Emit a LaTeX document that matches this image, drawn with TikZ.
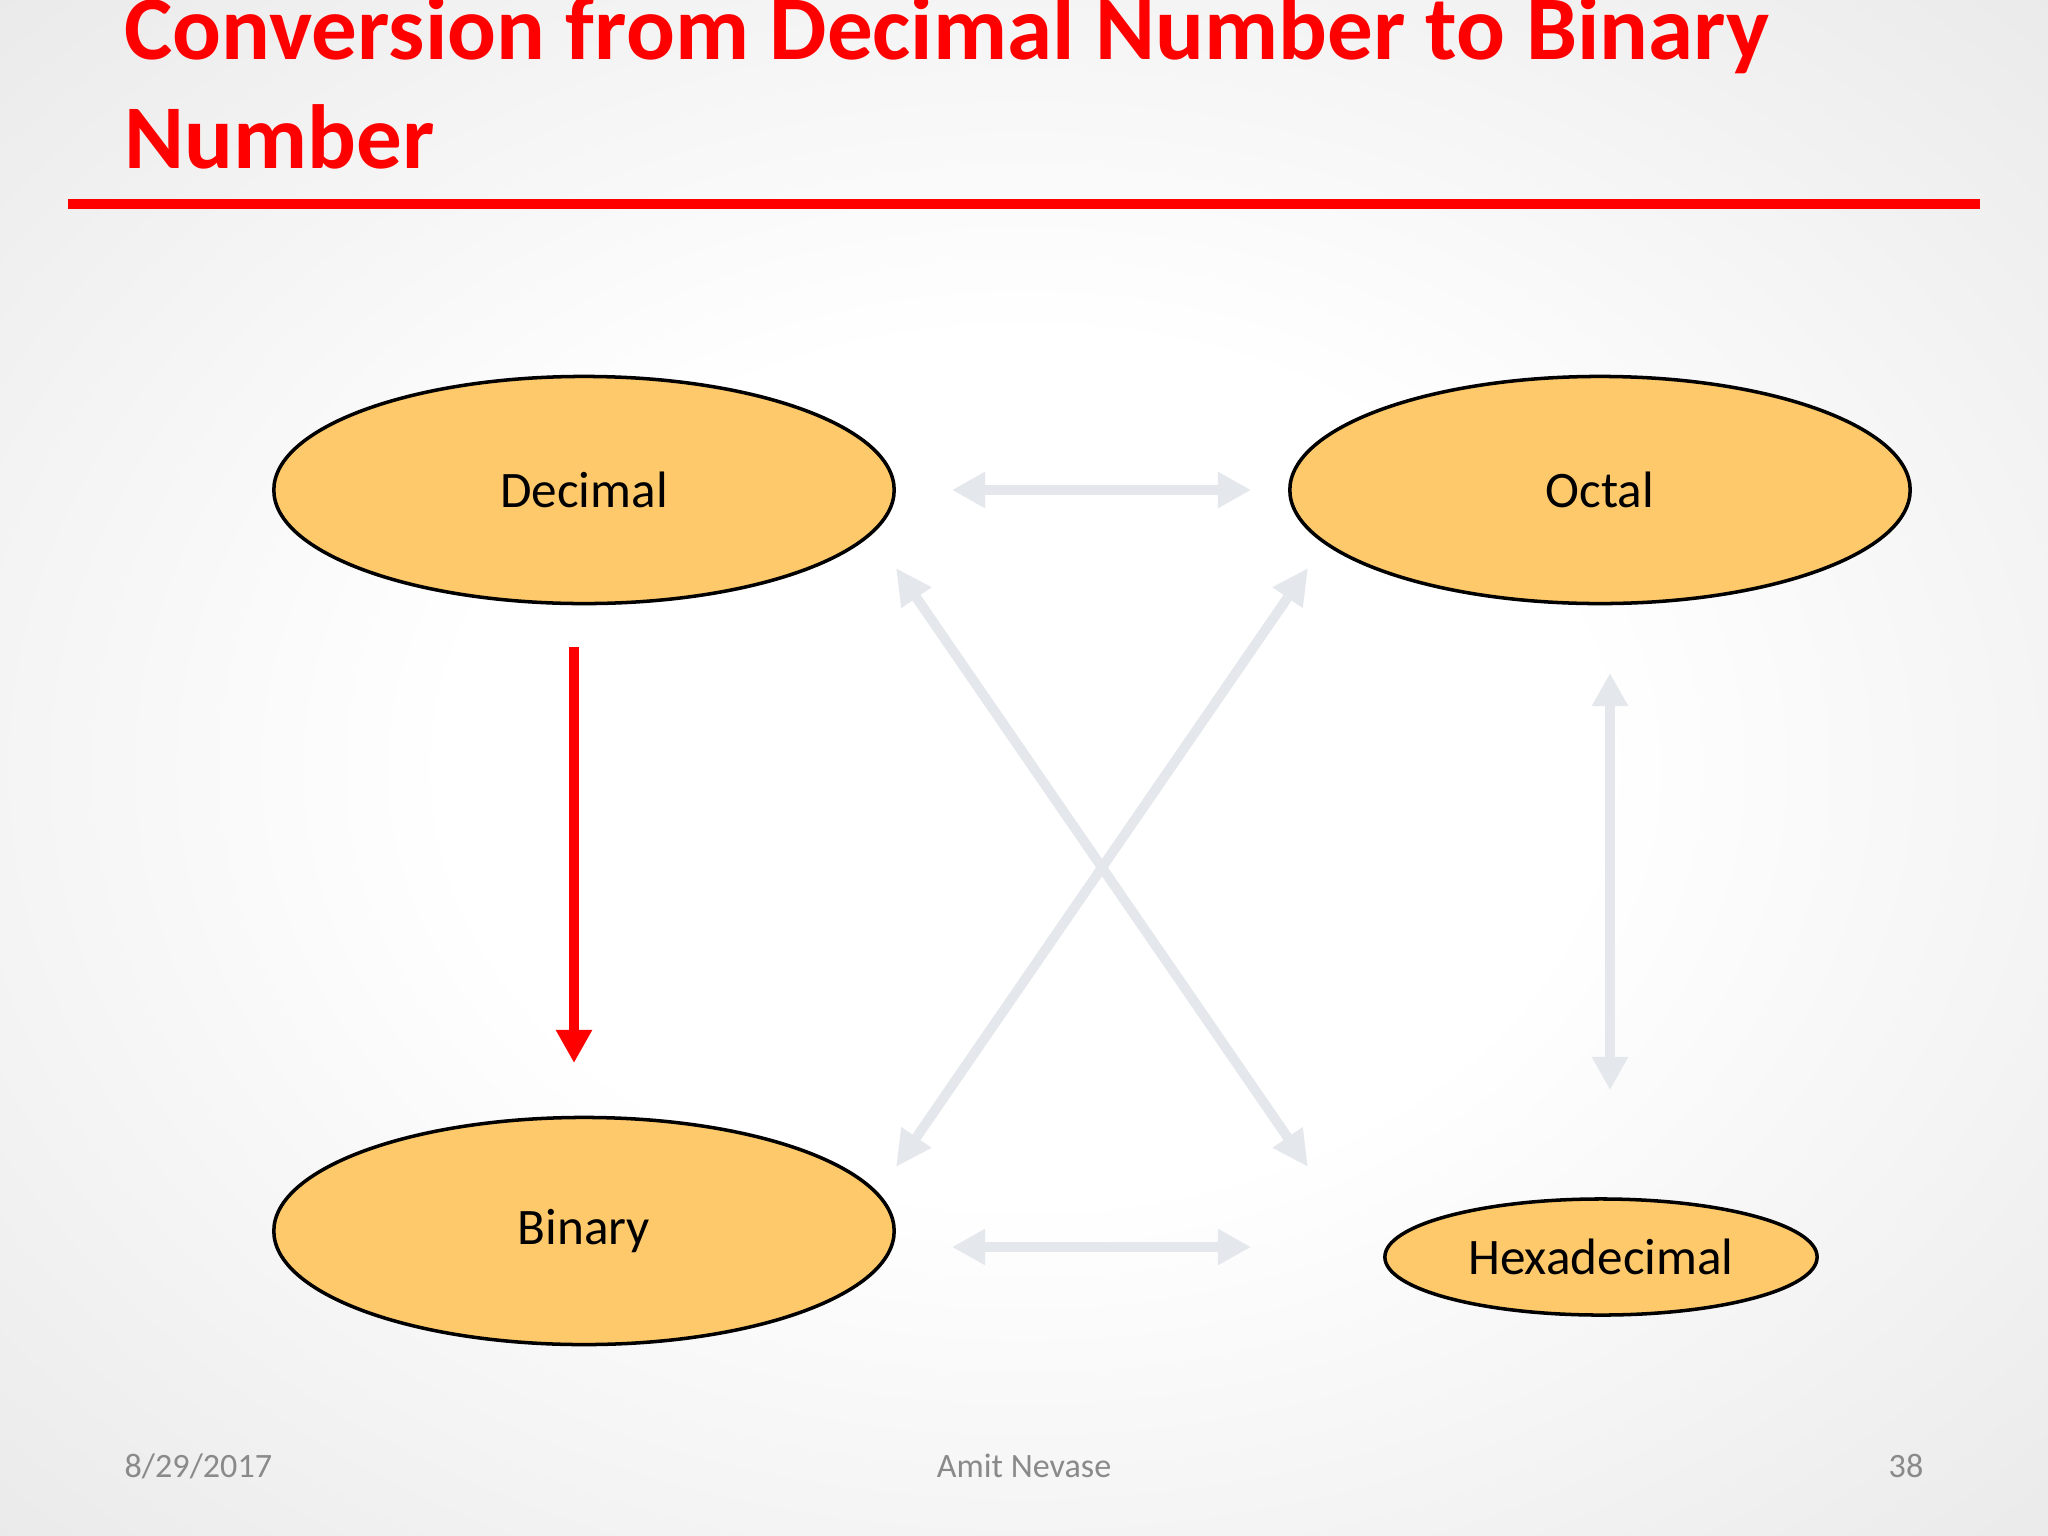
\documentclass[tikz,border=0pt]{standalone}
\usepackage{fontspec}
\setmainfont{Carlito}
\usetikzlibrary{arrows.meta,shapes.geometric}
\definecolor{bgedge}{HTML}{DCDCDC}
\definecolor{bgcorner}{HTML}{D2D2D2}
\definecolor{arrgray}{HTML}{E4E7EC}
\definecolor{ellfill}{HTML}{FDC96B}
\definecolor{foot}{HTML}{8A8A8A}
\definecolor{titred}{HTML}{FF0000}
\pgfdeclareradialshading{bgshade}{\pgfpoint{0bp}{0bp}}{color(0bp)=(white); color(14bp)=(white); color(50bp)=(bgedge); color(72bp)=(bgcorner)}
\tikzset{
  numbox/.style={ellipse, draw=black, line width=1pt, fill=ellfill, inner sep=0pt,
    font=\fontsize{14.56}{17}\selectfont, text=black},
  lightarrow/.style={draw=arrgray, line width=3.1pt, {Triangle[length=0.33cm,width=0.34cm]}-{Triangle[length=0.33cm,width=0.34cm]}},
  diagarrow/.style={draw=arrgray, line width=2.8pt, {Triangle[length=0.36cm,width=0.34cm]}-{Triangle[length=0.36cm,width=0.34cm]}},
  redarrow/.style={draw=titred, line width=3.1pt, -{Triangle[length=0.33cm,width=0.34cm]}},
  titletext/.style={anchor=base west, inner sep=0pt, text=titred, font=\fontsize{25.9}{31}\selectfont\bfseries},
  foottext/.style={anchor=base, inner sep=0pt, text=foot, font=\fontsize{9.7}{11}\selectfont}
}
\begin{document}
\begin{tikzpicture}[x=0.01cm, y=-0.01cm]
\useasboundingbox (0,0) rectangle (2048,1536);
\shade[shading=bgshade] (0,0) rectangle (2048,1536);
% title
\node[titletext] (t1) at (124,59) {Conversion from Decimal Number to Binary};
\node[titletext] (t2) at (124,168) {Number};
\fill[titred] (68,199) rectangle (1980,209);
% ellipses
\node[numbox, minimum width=6.2cm, minimum height=2.27cm] (dec) at (584,490) {Decimal};
\node[numbox, minimum width=6.2cm, minimum height=2.27cm] (oct) at (1600,490) {Octal};
\node[numbox, minimum width=6.2cm, minimum height=2.27cm] (bin) at (584,1231) {Binary};
\node[numbox, minimum width=4.32cm, minimum height=1.16cm] (hex) at (1601,1257) {Hexadecimal};
% arrow end points
\coordinate (a1) at (952,490);  \coordinate (a2) at (1251,490);
\coordinate (b1) at (952,1247); \coordinate (b2) at (1251,1247);
\coordinate (x1) at (896,568);  \coordinate (x2) at (1308,1167);
\coordinate (y1) at (896,1167); \coordinate (y2) at (1308,568);
\coordinate (v1) at (1610,673); \coordinate (v2) at (1610,1090);
\coordinate (r1) at (574,647);  \coordinate (r2) at (574,1063);
\draw[lightarrow] (a1) -- (a2);
\draw[lightarrow] (b1) -- (b2);
\draw[diagarrow] (x1) -- (x2);
\draw[diagarrow] (y1) -- (y2);
\draw[lightarrow] (v1) -- (v2);
\draw[redarrow] (r1) -- (r2);
% footer
\node[foottext, anchor=base west] (date) at (124,1477) {8/29/2017};
\node[foottext] (auth) at (1024,1477) {Amit Nevase};
\node[foottext, anchor=base east] (page) at (1924,1477) {38};
\end{tikzpicture}
\end{document}
